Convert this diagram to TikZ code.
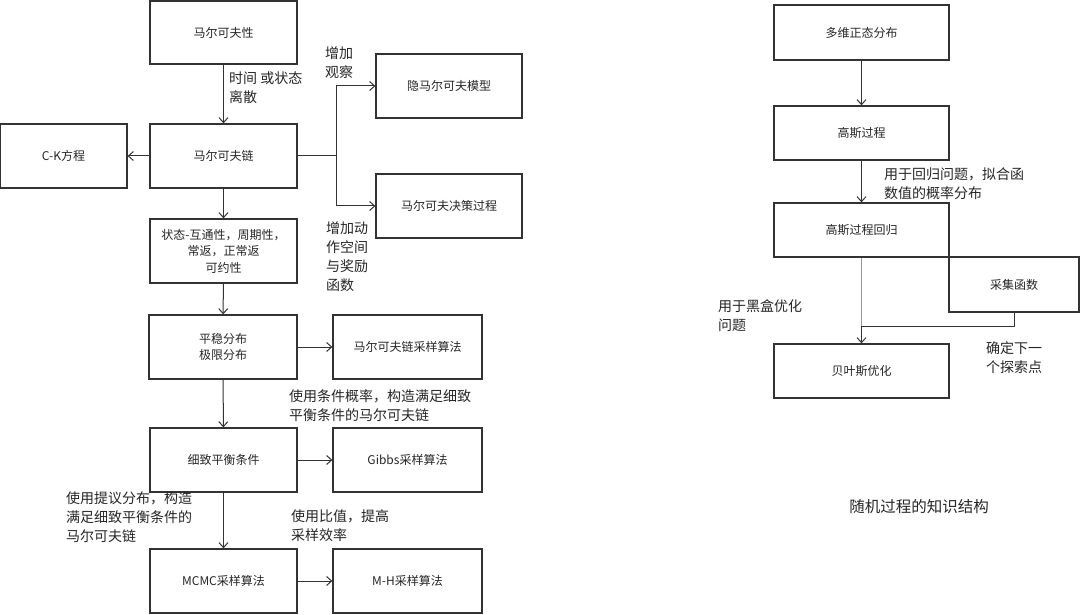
\documentclass[tikz,border=0pt]{standalone}
\usepackage{fontspec}
\newfontfamily\cjk{Noto Sans CJK SC}
\usetikzlibrary{arrows.meta}
\definecolor{ink}{HTML}{262626}
\definecolor{edge}{HTML}{333333}
\begin{document}
\begin{tikzpicture}[x=1pt,y=-1pt,
  box/.style={draw=edge,line width=1.3pt,rectangle,inner sep=0pt,align=center,text=ink,font=\cjk\fontsize{12}{16.5}\selectfont},
  lbl/.style={inner sep=0pt,anchor=north west,align=left,text=ink,font=\cjk\fontsize{14}{19}\selectfont},
  arr/.style={draw=edge,line width=1pt,-{Straight Barb[length=5pt,width=9pt,line width=1pt]}},
  ln/.style={draw=edge,line width=1pt}]
\fill[white] (0,0) rectangle (1080,615);
\useasboundingbox (0,0) rectangle (1080,615);
% left column
\node[box,minimum width=147pt,minimum height=63pt] (mp) at (223.5,32.5) {马尔可夫性};
\node[box,minimum width=147pt,minimum height=64pt] (mc) at (223.5,156) {马尔可夫链};
\node[box,minimum width=147pt,minimum height=64pt] (st) at (223.5,251) {状态-互通性，周期性，\\常返，正常返\\可约性};
\node[box,minimum width=148pt,minimum height=64pt] (pw) at (223,347) {平稳分布\\极限分布};
\node[box,minimum width=147pt,minimum height=64pt] (xz) at (223.5,460) {细致平衡条件};
\node[box,minimum width=147pt,minimum height=64pt] (mcmc) at (223.5,581) {MCMC采样算法};
\node[box,minimum width=127pt,minimum height=64pt] (ck) at (63.5,156) {C-K方程};
\node[box,minimum width=146pt,minimum height=64pt] (hmm) at (449,86) {隐马尔可夫模型};
\node[box,minimum width=146pt,minimum height=64pt] (mdp) at (449,206) {马尔可夫决策过程};
\node[box,minimum width=149pt,minimum height=64pt] (mcs) at (407.5,347) {马尔可夫链采样算法};
\node[box,minimum width=149pt,minimum height=64pt] (gibbs) at (407.5,460) {Gibbs采样算法};
\node[box,minimum width=149pt,minimum height=64pt] (mh) at (407.5,581) {M-H采样算法};
% right column
\node[box,minimum width=175pt,minimum height=55pt] (dw) at (861.5,32.5) {多维正态分布};
\node[box,minimum width=175pt,minimum height=54pt] (gp) at (861.5,133) {高斯过程};
\node[box,minimum width=175pt,minimum height=54pt] (gpr) at (861.5,230) {高斯过程回归};
\node[box,minimum width=130pt,minimum height=55pt] (acq) at (1014,284.5) {采集函数};
\node[box,minimum width=175pt,minimum height=54pt] (bo) at (861.5,371) {贝叶斯优化};
% connectors left
\draw[arr] (mp) -- (mc);
\draw[arr] (mc) -- (ck);
\coordinate (br) at (336,156);
\draw[ln] (mc.east) -- (br);
\draw[arr] (br) |- (hmm.west);
\draw[arr] (br) |- (mdp.west);
\draw[arr] (mc) -- (st);
\draw[arr] (st) -- (pw);
\draw[arr] (pw) -- (xz);
\draw[arr] (xz) -- (mcmc);
\draw[arr] (pw) -- (mcs);
\draw[arr] (xz) -- (gibbs);
\draw[arr] (mcmc) -- (mh);
% connectors right
\draw[arr] (dw) -- (gp);
\draw[arr] (gp) -- (gpr);
\coordinate (jn) at (861.5,326);
\draw[draw=gray!80,line width=0.8pt] (gpr.south) -- (jn);
\draw[arr] (jn) -- (bo.north);
\draw[ln] (acq.south) |- (jn);
% labels
\node[lbl] (l1) at (229,71) {时间 或状态\\离散};
\node[lbl] (l2) at (325,47) {增加\\观察};
\node[lbl] (l3) at (326,222) {增加动\\作空间\\与奖励\\函数};
\node[lbl] (l4) at (289,389) {使用条件概率，构造满足细致\\平衡条件的马尔可夫链};
\node[lbl] (l5) at (66,492) {使用提议分布，构造\\满足细致平衡条件的\\马尔可夫链};
\node[lbl] (l6) at (291,509) {使用比值，提高\\采样效率};
\node[lbl] (l7) at (884,167) {用于回归问题，拟合函\\数值的概率分布};
\node[lbl] (l8) at (718,299) {用于黑盒优化\\问题};
\node[lbl] (l9) at (986,341) {确定下一\\个探索点};
\node[inner sep=0pt,text=ink,font=\cjk\fontsize{15.5}{19}\selectfont] (title) at (919,507) {随机过程的知识结构};
\end{tikzpicture}
\end{document}
